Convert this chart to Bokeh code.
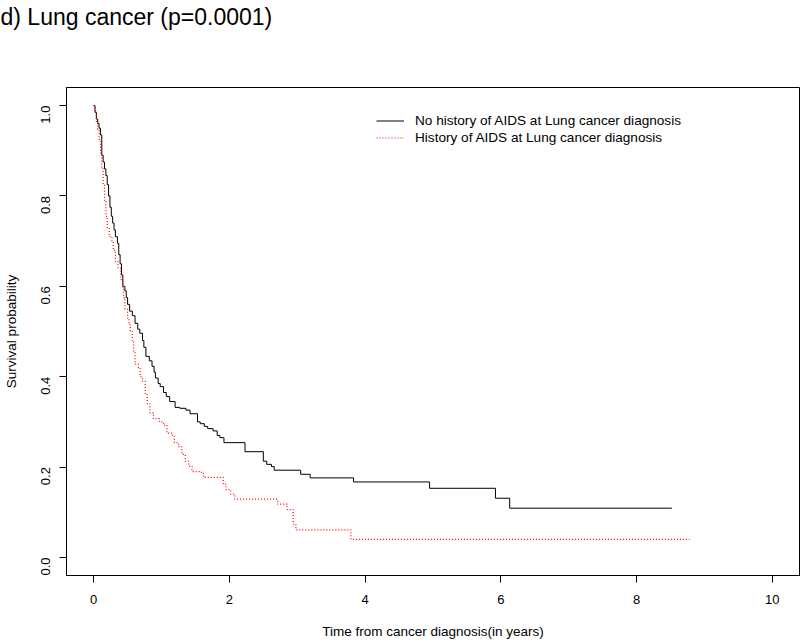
import math
from bokeh.plotting import figure
from bokeh.models import Range1d, FixedTicker, Legend, LegendItem, Title
from bokeh.embed import file_html
from bokeh.resources import INLINE

# ---------------- data ----------------
title_text = "d) Lung cancer (p=0.0001)"
x_label = "Time from cancer diagnosis(in years)"
y_label = "Survival probability"
series_names = ["No history of AIDS at Lung cancer diagnosis",
                "History of AIDS at Lung cancer diagnosis"]
x_ticks = [0, 2, 4, 6, 8, 10]
x_tick_labels = ["0", "2", "4", "6", "8", "10"]
y_ticks = [0.0, 0.2, 0.4, 0.6, 0.8, 1.0]
y_tick_labels = ["0.0", "0.2", "0.4", "0.6", "0.8", "1.0"]

no_aids_time = [0.0, 0.02, 0.04, 0.06, 0.08, 0.10, 0.12, 0.14, 0.16, 0.18, 0.20,
                0.22, 0.24, 0.26, 0.28, 0.30, 0.32, 0.35, 0.37, 0.39, 0.41, 0.43,
                0.46, 0.48, 0.50, 0.53, 0.57, 0.61, 0.65, 0.68, 0.72, 0.74, 0.77,
                0.82, 0.86, 0.89, 0.91, 0.95, 0.98, 1.03, 1.07, 1.12, 1.20, 1.27,
                1.36, 1.42, 1.53, 1.57, 1.63, 1.68, 1.76, 1.82, 1.86, 1.92, 2.23,
                2.50, 2.55, 2.62, 2.66, 3.05, 3.19, 3.83, 4.95, 5.92, 6.13]
no_aids_surv = [1.0, 0.985, 0.97, 0.96, 0.95, 0.935, 0.89, 0.875, 0.86, 0.845, 0.825,
                0.80, 0.775, 0.755, 0.74, 0.725, 0.71, 0.695, 0.67, 0.65, 0.625, 0.60,
                0.59, 0.575, 0.56, 0.545, 0.535, 0.518, 0.505, 0.496, 0.48, 0.465, 0.445,
                0.435, 0.423, 0.41, 0.397, 0.385, 0.378, 0.365, 0.356, 0.345, 0.332, 0.33,
                0.326, 0.318, 0.30, 0.296, 0.29, 0.285, 0.28, 0.27, 0.265, 0.254, 0.234,
                0.213, 0.206, 0.201, 0.193, 0.184, 0.176, 0.167, 0.153, 0.131, 0.109]
no_aids_last_time = 8.52

aids_time = [0.0, 0.02, 0.04, 0.06, 0.08, 0.10, 0.12, 0.14, 0.16, 0.18, 0.20,
             0.23, 0.27, 0.29, 0.32, 0.36, 0.40, 0.43, 0.44, 0.46, 0.50, 0.52,
             0.54, 0.57, 0.59, 0.61, 0.66, 0.685, 0.72, 0.76, 0.79, 0.83, 0.88,
             0.97, 1.03, 1.08, 1.15, 1.19, 1.25, 1.30, 1.35, 1.40, 1.45, 1.59,
             1.62, 1.91, 1.95, 2.02, 2.08, 2.71, 2.85, 2.94, 2.98, 3.79]
aids_surv = [1.0, 0.985, 0.965, 0.945, 0.925, 0.895, 0.86, 0.825, 0.79, 0.755, 0.73,
             0.71, 0.70, 0.68, 0.655, 0.64, 0.615, 0.595, 0.575, 0.55, 0.53, 0.515,
             0.50, 0.48, 0.455, 0.428, 0.42, 0.40, 0.39, 0.36, 0.34, 0.32, 0.307,
             0.30, 0.293, 0.275, 0.27, 0.254, 0.245, 0.228, 0.213, 0.202, 0.19, 0.186,
             0.177, 0.162, 0.15, 0.14, 0.129, 0.118, 0.106, 0.074, 0.061, 0.040]
aids_last_time = 8.78

# ---------------- figure ----------------
FONT = "Liberation Sans"

p = figure(width=800, height=641, output_backend="svg", toolbar_location=None,
           title=None,
           x_range=Range1d(-0.4, 10.4), y_range=Range1d(-0.04, 1.04),
           min_border_left=66, min_border_right=1, min_border_top=87,
           min_border_bottom=64)
p.background_fill_color = "white"
p.border_fill_color = "white"
p.outline_line_color = "black"
p.outline_line_width = 1
p.xgrid.visible = False
p.ygrid.visible = False

# spacer next to the frame (white on white), then the real title above it
spacer = Title(text=" ", text_font_size="1px", text_color="white", standoff=55)
p.add_layout(spacer, "above")
main_title = Title(text=title_text, text_font=FONT, text_font_size="23px",
                   text_font_style="normal", text_color="black",
                   align="left", offset=-66, standoff=0)
p.add_layout(main_title, "above")

for ax in (p.xaxis[0], p.yaxis[0]):
    ax.axis_line_color = "black"
    ax.major_tick_line_color = "black"
    ax.major_tick_out = 7
    ax.major_tick_in = 0
    ax.minor_tick_line_color = None
    ax.major_label_text_font = FONT
    ax.major_label_text_font_size = "13px"
    ax.major_label_text_color = "black"
    ax.axis_label_text_font = FONT
    ax.axis_label_text_font_size = "13.5px"
    ax.axis_label_text_font_style = "normal"
    ax.axis_label_text_color = "black"

p.xaxis[0].ticker = FixedTicker(ticks=x_ticks)
p.xaxis[0].major_label_overrides = {t: l for t, l in zip(x_ticks, x_tick_labels)}
p.xaxis[0].major_label_standoff = 12
p.xaxis[0].axis_label = x_label
p.xaxis[0].axis_label_standoff = 17

p.yaxis[0].ticker = FixedTicker(ticks=y_ticks)
p.yaxis[0].major_label_overrides = {t: l for t, l in zip(y_ticks, y_tick_labels)}
p.yaxis[0].major_label_orientation = math.pi / 2
p.yaxis[0].major_label_standoff = 14
p.yaxis[0].axis_label = y_label
p.yaxis[0].axis_label_standoff = 15

r1 = p.step(x=no_aids_time + [no_aids_last_time], y=no_aids_surv + [no_aids_surv[-1]],
            mode="after", line_color="black", line_width=1)
r2 = p.step(x=aids_time + [aids_last_time], y=aids_surv + [aids_surv[-1]],
            mode="after", line_color="red", line_width=1.2, line_dash="1 2")

legend = Legend(items=[LegendItem(label=series_names[0], renderers=[r1]),
                       LegendItem(label=series_names[1], renderers=[r2])],
                location=(310, 429), orientation="vertical",
                glyph_width=28, glyph_height=17, label_height=17,
                label_standoff=11, spacing=0, padding=0, margin=0,
                border_line_alpha=0, background_fill_alpha=0,
                label_text_font=FONT, label_text_font_size="13.6px",
                label_text_color="black")
p.add_layout(legend, "center")

open("out.html", "w").write(file_html(p, INLINE))
